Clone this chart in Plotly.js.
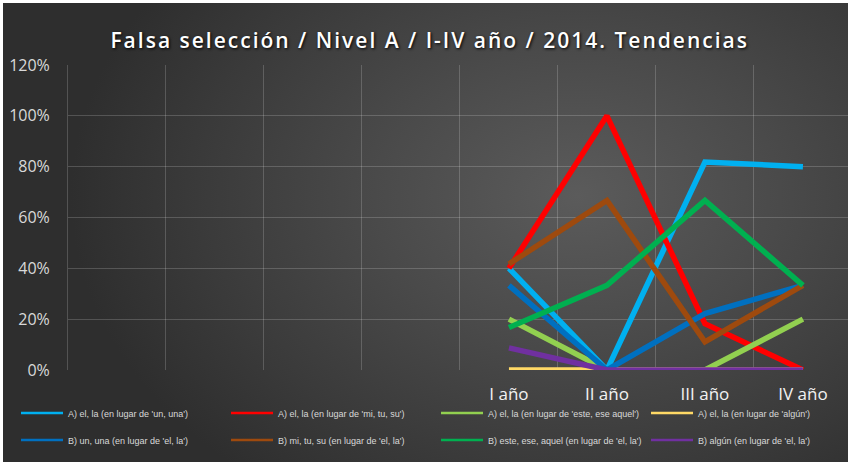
<!DOCTYPE html>
<html>
<head>
<meta charset="utf-8">
<script src="https://cdn.plot.ly/plotly-3.0.1.min.js"></script>
<style>
  html, body { margin: 0; padding: 0; background: #ffffff; overflow: hidden; }
  #chart {
    position: absolute; left: 3px; top: 3px; width: 845px; height: 459px;
    background: radial-gradient(ellipse 60% 80% at 68% 42%, #5b5b5b 0%, #4a4a4a 40%, #3a3a3a 75%, #2e2e2e 100%);
  }
  .gtitle { letter-spacing: 2px; }
</style>
</head>
<body>
<div id="chart"></div>
<script>
// Categories (first four are empty slots in the original chart)
const categories = [" ", "  ", "   ", "    ", "I año", "II año", "III año", "IV año"];
const years = ["I año", "II año", "III año", "IV año"];

const seriesNames = [
  "A) el, la (en lugar de 'un, una')",
  "A) el, la (en lugar de 'mi, tu, su')",
  "A) el, la (en lugar de 'este, ese aquel')",
  "A) el, la (en lugar de 'algún')",
  "B) un, una (en lugar de 'el, la')",
  "B) mi, tu, su (en lugar de 'el, la')",
  "B) este, ese, aquel (en lugar de 'el, la')",
  "B) algún (en lugar de 'el, la')"
];

const A_un_una   = [0.40, 0.00, 0.818, 0.80];
const A_mi_tu_su = [0.40, 1.00, 0.182, 0.00];
const A_este     = [0.20, 0.00, 0.00, 0.20];
const A_algun    = [0.00, 0.00, 0.00, 0.00];
const B_un_una   = [0.333, 0.00, 0.222, 0.333];
const B_mi_tu_su = [0.417, 0.667, 0.111, 0.333];
const B_este     = [0.167, 0.333, 0.667, 0.333];
const B_algun    = [0.087, 0.00, 0.00, 0.00];

const values = [A_un_una, A_mi_tu_su, A_este, A_algun, B_un_una, B_mi_tu_su, B_este, B_algun];
const colors = ["#00B0F0", "#FF0000", "#92D050", "#FFD966", "#0070C0", "#9E4A0E", "#00B050", "#7030A0"];

const legendIds = values.map((v, i) => i === 0 ? "legend" : "legend" + (i + 1));

// Data lines (thick)
const traces = values.map((v, i) => ({
  type: "scatter",
  mode: "lines",
  x: years,
  y: v,
  name: seriesNames[i],
  showlegend: false,
  line: { color: colors[i], width: 5.5 },
  hoverinfo: "none"
}));

// Legend entries (thin sample line, no data marks)
const legendTraces = values.map((v, i) => ({
  type: "scatter",
  mode: "lines",
  x: [years[0]],
  y: [null],
  name: seriesNames[i],
  legend: legendIds[i],
  showlegend: true,
  line: { color: colors[i], width: 2.5 },
  hoverinfo: "none"
}));

const W = 845, H = 459;
const colX = [13, 223, 433, 643];   // legend column positions (px in chart div)
const rowY = [410, 437];            // legend row centres (px in chart div)

const layout = {
  width: W, height: H,
  paper_bgcolor: "rgba(0,0,0,0)",
  plot_bgcolor: "rgba(0,0,0,0)",
  margin: { l: 65, r: 0, t: 62, b: 91.5 },
  title: {
    text: "Falsa selección / Nivel A / I-IV año / 2014. Tendencias",
    x: 0.505, xanchor: "center", xref: "container",
    y: 0.919, yanchor: "middle", yref: "container",
    font: { family: "Open Sans, Liberation Sans, Arial", size: 21, weight: 600, color: "#ffffff", shadow: "1px 1px 3px #000000" }
  },
  xaxis: {
    type: "category",
    categoryorder: "array",
    categoryarray: categories,
    tickvals: categories,
    range: [-0.5, 7.46],
    tickson: "boundaries",
    ticks: "",
    showgrid: true,
    gridcolor: "rgba(255,255,255,0.18)",
    gridwidth: 1,
    zeroline: false,
    showline: false,
    ticklabelstandoff: 12,
    tickfont: { family: "Open Sans, Liberation Sans, Arial", size: 17, color: "#f2f2f2" }
  },
  yaxis: {
    range: [0, 1.2],
    dtick: 0.2,
    tick0: 0,
    tickformat: ".0%",
    showgrid: true,
    gridcolor: "rgba(255,255,255,0.18)",
    gridwidth: 1,
    zeroline: false,
    showline: true,
    linecolor: "rgba(255,255,255,0.18)",
    linewidth: 1,
    ticks: "",
    ticklabelstandoff: 14,
    tickfont: { family: "Open Sans, Liberation Sans, Arial", size: 16, color: "#d9d9d9" }
  },
  showlegend: true
};

legendIds.forEach((id, i) => {
  layout[id] = {
    orientation: "h",
    xref: "container", yref: "container",
    x: colX[i % 4] / W, xanchor: "left",
    y: 1 - rowY[Math.floor(i / 4)] / H, yanchor: "middle",
    itemwidth: 42,
    bgcolor: "rgba(0,0,0,0)",
    font: { family: "Liberation Sans Narrow, Liberation Sans, Arial", size: 9, color: "#d9d9d9" }
  };
});

Plotly.newPlot("chart", traces.concat(legendTraces), layout, { displayModeBar: false, staticPlot: true });
</script>
</body>
</html>
